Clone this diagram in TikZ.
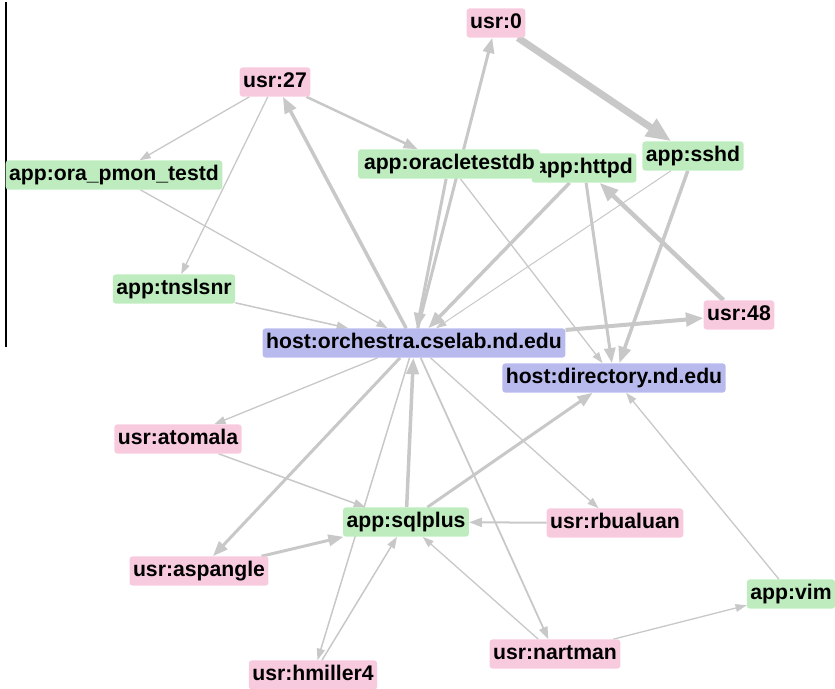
\documentclass[tikz,border=0pt]{standalone}
\usepackage{fontspec}
\setmainfont{Liberation Sans}
\usetikzlibrary{arrows.meta,backgrounds}

\definecolor{usrpink}{RGB}{247,202,222}
\definecolor{appgreen}{RGB}{190,236,190}
\definecolor{hostblue}{RGB}{184,186,238}
\definecolor{edgegray}{RGB}{200,200,200}

\tikzset{
  vtx/.style={rounded corners=3pt, inner xsep=3.5pt, inner ysep=5pt,
    text height=15pt, text depth=4.2pt,
    font=\fontsize{21.2}{24}\selectfont\bfseries, text=black},
  usr/.style={vtx, fill=usrpink},
  app/.style={vtx, fill=appgreen},
  host/.style={vtx, fill=hostblue},
  e/.style={draw=edgegray, line width=#1,
    -{Triangle[length=8pt 2.4, width=5pt 2.1]}},
}

\begin{document}
\begin{tikzpicture}[x=1pt, y=-1pt]
\useasboundingbox (0,0) rectangle (835,688);

% frame mark on the left
\coordinate (barT) at (6,2);
\coordinate (barB) at (6,347);
\draw[black, line width=1.2pt] (barT) -- (barB);

% hosts
\node[host] (orch) at (414,343) {host:orchestra.cselab.nd.edu};
\node[host] (dir)  at (614,378) {host:directory.nd.edu};

% users
\node[usr] (u0)   at (496,23)  {usr:0};
\node[usr] (u27)  at (275,82)  {usr:27};
\node[usr] (u48)  at (739,315) {usr:48};
\node[usr] (atom) at (178,439) {usr:atomala};
\node[usr] (rbu)  at (615,523) {usr:rbualuan};
\node[usr] (asp)  at (199,571) {usr:aspangle};
\node[usr] (nart) at (555,654) {usr:nartman};
\node[usr] (hmil) at (313,675) {usr:hmiller4};

% applications (oracletestdb is placed after httpd so it sits on top)
\node[app] (ora)   at (114,175) {app:ora\_pmon\_testd};
\node[app] (tns)   at (174,289) {app:tnslsnr};
\node[app] (httpd) at (584,168) {app:httpd};
\node[app, minimum width=182pt, text width=170pt, align=left] (otdb) at (449,164) {app:oracletestdb};
\node[app] (sshd)  at (693,156) {app:sshd};
\node[app] (sql)   at (406,522) {app:sqlplus};
\node[app] (vim)   at (791,594) {app:vim};

\begin{scope}[on background layer]
  % upper half
  \draw[e=1.3] (u27) -- (ora);
  \draw[e=1.3] (u27) -- (tns);
  \draw[e=2.5] (u27) -- (otdb);
  \draw[e=3.5] (orch) -- (u27);
  \draw[e=1.3] (ora) -- (orch);
  \draw[e=1.5] (tns) -- (orch);
  \draw[e=3]   (orch) -- (u0);
  \draw[e=3]   (otdb) -- (orch);
  \draw[e=1.3] (otdb) -- (dir);
  \draw[e=7]   (u0) -- (sshd);
  \draw[e=3.5] (httpd) -- (orch);
  \draw[e=1]   (sshd) -- (orch);
  \draw[e=3]   (httpd) -- (dir);
  \draw[e=3.5] (sshd) -- (dir);
  \draw[e=4.5] (u48) -- (httpd);
  \draw[e=4]   (orch) -- (u48);
  % lower half
  \draw[e=1.3] (orch) -- (atom);
  \draw[e=1.5] (atom) -- (sql);
  \draw[e=3]   (orch) -- (asp);
  \draw[e=3]   (asp) -- (sql);
  \draw[e=3.5] (sql) -- (orch);
  \draw[e=1.5] (orch) -- (hmil);
  \draw[e=1.5] (hmil) -- (sql);
  \draw[e=1.8] (orch) -- (nart);
  \draw[e=1.3] (nart) -- (sql);
  \draw[e=2]   (rbu) -- (sql);
  \draw[e=1.3] (orch) -- (rbu);
  \draw[e=3]   (sql) -- (dir);
  \draw[e=1.3] (vim) -- (dir);
  \draw[e=1.3] (nart) -- (vim);
\end{scope}
\end{tikzpicture}
\end{document}
